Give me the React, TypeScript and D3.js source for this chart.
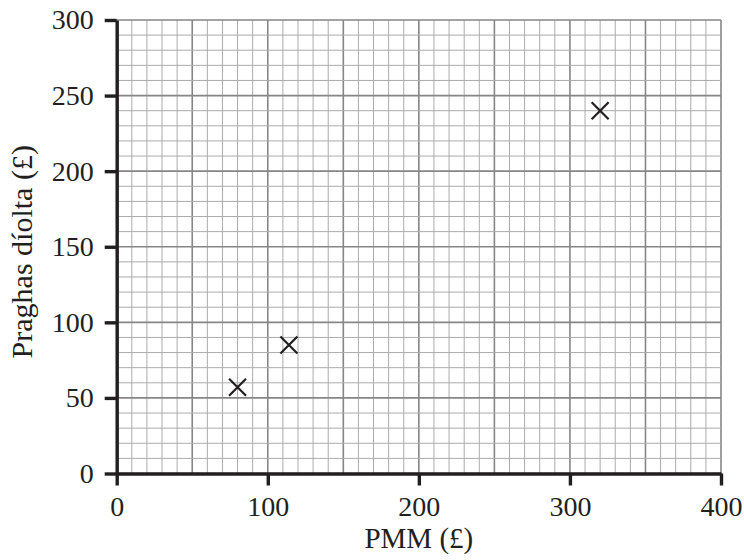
import React, { useEffect, useRef } from 'react';
import * as d3 from 'd3';

// values
const pmm = [80, 114, 320];
const praghas = [57, 85, 240];
const xTicks = [0, 100, 200, 300, 400];
const yTicks = [0, 50, 100, 150, 200, 250, 300];
const xTitle = 'PMM (£)';
const yTitle = 'Praghas díolta (£)';

const App = () => {
  const svg = useRef(null);
  const width = 744;
  const height = 560;
  const left = 116.7;
  const right = 721;
  const top = 20;
  const bottom = 473.5;
  const font = '"Liberation Serif", "Times New Roman", serif';

  const renderChart = (svg: any) => {
    svg.selectAll('*').remove();

    const x = d3.scaleLinear().domain([0, 400]).range([left, right]);
    const y = d3.scaleLinear().domain([0, 300]).range([bottom, top]);

    // graph paper
    const grid = svg.append('g').attr('class', 'grid');
    const xMinor = d3.range(0, 401, 10);
    const yMinor = d3.range(0, 301, 10);

    grid
      .selectAll('.vx')
      .data(xMinor)
      .enter()
      .append('line')
      .attr('x1', (d: number) => x(d))
      .attr('x2', (d: number) => x(d))
      .attr('y1', y(0))
      .attr('y2', y(300))
      .attr('stroke', (d: number) => (d % 50 === 0 ? '#868686' : '#ababab'))
      .attr('stroke-width', (d: number) => (d % 50 === 0 ? 1.6 : 1));

    grid
      .selectAll('.hy')
      .data(yMinor)
      .enter()
      .append('line')
      .attr('x1', x(0))
      .attr('x2', x(400))
      .attr('y1', (d: number) => y(d))
      .attr('y2', (d: number) => y(d))
      .attr('stroke', (d: number) => (d % 50 === 0 ? '#868686' : '#ababab'))
      .attr('stroke-width', (d: number) => (d % 50 === 0 ? 1.6 : 1));

    // axes
    const xAxis = d3.axisBottom(x).tickValues(xTicks).tickSize(12).tickSizeOuter(0).tickPadding(11);
    const yAxis = d3.axisLeft(y).tickValues(yTicks).tickSize(12).tickSizeOuter(0).tickPadding(11);

    const gx = svg
      .append('g')
      .attr('transform', `translate(0, ${bottom})`)
      .call(xAxis);
    const gy = svg
      .append('g')
      .attr('transform', `translate(${left}, 0)`)
      .call(yAxis);

    [gx, gy].forEach((g: any) => {
      g.select('.domain').attr('stroke', '#231f20').attr('stroke-width', 3.4);
      g.selectAll('.tick line').attr('stroke', '#231f20').attr('stroke-width', 3.4);
      g.selectAll('.tick text')
        .attr('fill', '#231f20')
        .style('font-family', font)
        .style('font-size', '28px');
    });
    gy.selectAll('.tick text').attr('dy', '0.32em');
    gx.selectAll('.tick text').attr('dy', '0.71em');

    // crosses
    const pts = pmm.map((v, i) => [v, praghas[i]]);
    const s = 8.5;
    svg
      .append('g')
      .selectAll('path')
      .data(pts)
      .enter()
      .append('path')
      .attr('d', (d: number[]) => {
        const cx = x(d[0]);
        const cy = y(d[1]);
        return `M${cx - s},${cy - s}L${cx + s},${cy + s}M${cx - s},${cy + s}L${cx + s},${cy - s}`;
      })
      .attr('stroke', '#231f20')
      .attr('stroke-width', 2.2)
      .attr('fill', 'none');

    // titles
    svg
      .append('text')
      .attr('x', (left + right) / 2)
      .attr('y', 548)
      .attr('text-anchor', 'middle')
      .attr('fill', '#231f20')
      .style('font-family', font)
      .style('font-size', '29px')
      .text(xTitle);

    svg
      .append('text')
      .attr('transform', `translate(32, ${(top + bottom) / 2 + 5}) rotate(-90)`)
      .attr('text-anchor', 'middle')
      .attr('fill', '#231f20')
      .style('font-family', font)
      .style('font-size', '30px')
      .text(yTitle);
  };

  useEffect(() => {
    renderChart(d3.select(svg.current));
  }, []);

  return (
    <svg
      ref={svg}
      width={width}
      height={height}
      style={{ position: 'absolute', left: 0, top: 0, background: '#fff' }}
    />
  );
};

export default App;
